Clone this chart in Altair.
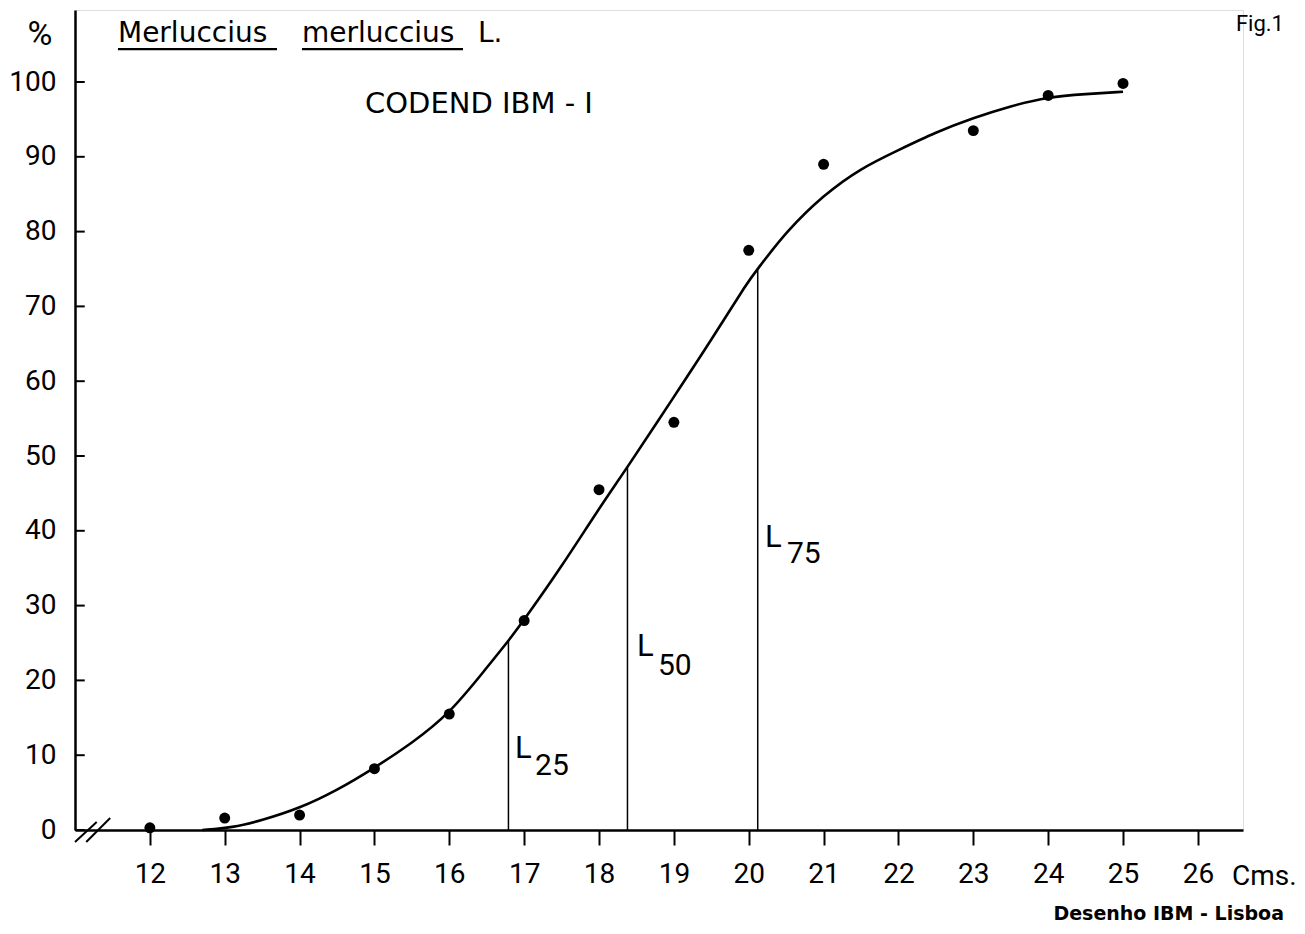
import altair as alt
import pandas as pd

# ---- data ----
pts_len = [12, 13, 14, 15, 16, 17, 18, 19, 20, 21, 23, 24, 25]
pts_pct = [0.3, 1.6, 2.0, 8.2, 15.5, 28.0, 45.5, 54.5, 77.5, 89.0, 93.5, 98.2, 99.8]

curve_len = [12.7, 13.1, 13.5, 14.0, 14.5, 15.0, 15.5, 16.0, 16.5, 16.8, 17.0, 17.5, 18.0,
             18.38, 19.0, 19.5, 20.0, 20.12, 20.5, 21.0, 21.5, 22.0, 22.5, 23.0, 23.5,
             24.0, 24.5, 25.0]
curve_pct = [0.0, 0.3, 1.3, 2.9, 5.3, 8.3, 11.6, 15.5, 21.7, 25.4, 28.1, 35.2, 43.0,
             48.5, 57.9, 65.5, 73.5, 75.0, 80.0, 84.9, 88.5, 90.9, 93.3, 95.2, 96.8,
             98.0, 98.4, 98.7]

l_names = ["25", "50", "75"]
l_len = [16.79, 18.38, 20.12]
l_pct = [25.4, 48.5, 75.0]

x_ticks = list(range(12, 27))
y_ticks = list(range(0, 101, 10))

NUMFONT = "Roboto"
WFONT = "DejaVu Sans"
W, H = 1168, 820
XD = [11, 11 + W / 74.86]
YD = [0, H / 7.48]

xs = alt.Scale(domain=XD, nice=False, zero=False)
ys = alt.Scale(domain=YD, nice=False, zero=False)

pts = pd.DataFrame({"x": pts_len, "y": pts_pct})
curve = pd.DataFrame({"x": curve_len, "y": curve_pct})
lines = pd.DataFrame({"name": l_names, "x": l_len, "y": l_pct, "y0": [0, 0, 0]})

base_x = alt.X("x:Q", scale=xs, title=None,
               axis=alt.Axis(values=x_ticks, format="d", tickSize=15, tickWidth=2,
                             tickColor="black", domainColor="black", domainWidth=2.5,
                             labelFont=NUMFONT, labelFontSize=28, labelColor="black",
                             labelPadding=15, grid=False, labelFlush=False))
base_y = alt.Y("y:Q", scale=ys, title=None,
               axis=alt.Axis(values=y_ticks, format="d", ticks=False, domainColor="black",
                             domainWidth=2.5, labelFont=NUMFONT, labelFontSize=28,
                             labelColor="black", labelPadding=19, grid=False))

curve_layer = alt.Chart(curve).mark_line(color="black", strokeWidth=2.6,
                                         interpolate="basis").encode(x=base_x, y=base_y)

pts_layer = alt.Chart(pts).mark_point(filled=True, color="black", size=120,
                                      opacity=1).encode(
    x=alt.X("x:Q", scale=xs), y=alt.Y("y:Q", scale=ys))

vlines = alt.Chart(lines).mark_rule(color="black", strokeWidth=1.5).encode(
    x=alt.X("x:Q", scale=xs), y=alt.Y("y0:Q", scale=ys), y2="y:Q")

# inward y ticks
ytick_df = pd.DataFrame({"y": y_ticks, "x0": [11.0] * len(y_ticks),
                         "x1": [11.13] * len(y_ticks)})
ytick_layer = alt.Chart(ytick_df).mark_rule(color="black", strokeWidth=2).encode(
    x=alt.X("x0:Q", scale=xs), x2="x1:Q", y=alt.Y("y:Q", scale=ys))

# axis break slashes
slash = pd.DataFrame({"x0": [11.0, 11.15], "x1": [11.29, 11.47],
                      "y0": [-1.6, -1.6], "y1": [1.07, 1.6]})
slash_layer = alt.Chart(slash).mark_rule(color="black", strokeWidth=2).encode(
    x=alt.X("x0:Q", scale=xs), x2="x1:Q", y=alt.Y("y0:Q", scale=ys), y2="y1:Q")

# L labels with subscripts
l_text = pd.DataFrame({"x": [16.878, 18.507, 20.217], "y": [9.63, 23.26, 37.83]})
s_text = pd.DataFrame({"x": [17.145, 18.788, 20.511], "y": [7.35, 20.72, 35.70],
                       "t": l_names})
L_layer = alt.Chart(l_text).mark_text(text="L", font=NUMFONT, fontSize=31, align="left",
                                      baseline="alphabetic", color="black").encode(
    x=alt.X("x:Q", scale=xs), y=alt.Y("y:Q", scale=ys))
S_layer = alt.Chart(s_text).mark_text(font=NUMFONT, fontSize=30, align="left",
                                      baseline="alphabetic", color="black").encode(
    x=alt.X("x:Q", scale=xs), y=alt.Y("y:Q", scale=ys), text="t:N")

# other texts (baseline = alphabetic)
texts = pd.DataFrame({
    "x": [11.574, 14.032, 16.383, 14.874, 10.532, 26.456, 27.15, 27.15],
    "y": [105.35, 105.35, 105.35, 95.86, 104.9, -7.35, -12.03, 106.8],
    "t": ["Merluccius", "merluccius", "L.", "CODEND IBM - I", "%", "Cms.",
          "Desenho IBM - Lisboa", "Fig.1"],
    "align": ["left", "left", "left", "left", "center", "left", "right", "right"],
    "size": [28, 28, 28, 29, 34, 28, 19, 22],
    "font": [WFONT, WFONT, WFONT, WFONT, NUMFONT, NUMFONT, WFONT, NUMFONT],
    "weight": ["normal", "normal", "normal", "normal", "normal", "normal", "bold",
               "normal"],
})
text_layers = []
for i, r in texts.iterrows():
    text_layers.append(
        alt.Chart(texts.iloc[[i]]).mark_text(font=r["font"], fontSize=int(r["size"]),
                                             align=r["align"], baseline="alphabetic",
                                             color="black", fontWeight=r["weight"]).encode(
            x=alt.X("x:Q", scale=xs), y=alt.Y("y:Q", scale=ys), text="t:N"))

# underlines for species name
ul = pd.DataFrame({"x0": [11.574, 14.032], "x1": [13.698, 16.183], "y": [104.4, 104.4]})
ul_layer = alt.Chart(ul).mark_rule(color="black", strokeWidth=2.2).encode(
    x=alt.X("x0:Q", scale=xs), x2="x1:Q", y=alt.Y("y:Q", scale=ys))

chart = alt.layer(curve_layer, vlines, pts_layer, ytick_layer, slash_layer, L_layer,
                  S_layer, ul_layer, *text_layers).properties(
    width=W, height=H,
    autosize=alt.AutoSizeParams(type="none"),
    padding={"left": 67, "top": 2, "right": 54, "bottom": 100},
).configure_view(stroke=None).configure(background="white")

chart.save("out.html", embed_options={"renderer": "svg", "actions": False})
